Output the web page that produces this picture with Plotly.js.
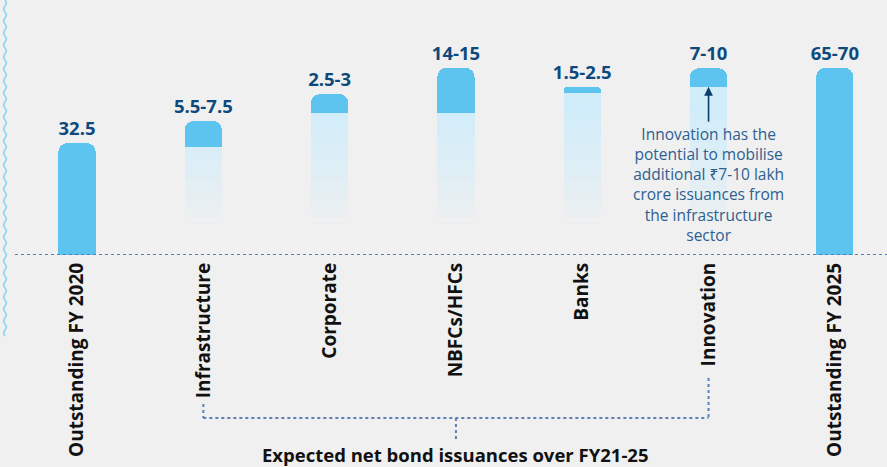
<!DOCTYPE html>
<html>
<head>
<meta charset="utf-8">
<script src="https://cdn.plot.ly/plotly-3.0.1.min.js"></script>
<style>html,body{margin:0;padding:0;background:#f0f0f0;}#chart{width:887px;height:467px;}</style>
</head>
<body>
<div id="chart"></div>
<script>
// ---- data (chart is an infographic, drawn heights are not to scale) ----
const categories = ['Outstanding FY 2020','Infrastructure','Corporate','NBFCs/HFCs','Banks','Innovation','Outstanding FY 2025'];
const valueLabels = ['32.5','5.5-7.5','2.5-3','14-15','1.5-2.5','7-10','65-70'];
// drawn heights, in units where the FY2020 bar = 32.5
const barTop  = [32.5, 38.9, 46.7, 54.3, 48.7, 54.2, 54.3];
const barBase = [0,    31.3, 41.2, 41.2, 46.9, 48.8, 0];
const hasFadeBody = [false, true, true, true, true, true, false];
const noteText = 'Innovation has the<br>potential to mobilise<br>additional ₹7-10 lakh<br>crore issuances from<br>the infrastructure<br>sector';
const groupTitle = 'Expected net bond issuances over FY21-25';

// ---- styling ----
const FONT = '"Open Sans", "Noto Sans", sans-serif';
const CAP = '#5cc4ee';
const BW = 0.295;
const fadeLo = 9, fadeHi = 44, bands = 40;

const traces = [];
// faded bodies below the caps: a vertical fade built from thin bands
for (let k = 0; k < bands; k++) {
  const lo = fadeLo + (fadeHi - fadeLo) * k / bands;
  const hi = fadeLo + (fadeHi - fadeLo) * (k + 1) / bands;
  const t = (k + 0.5) / bands;
  const a = 0.9 * Math.pow(t, 0.8);
  const base = [], h = [];
  categories.forEach((c, i) => {
    if (!hasFadeBody[i]) { base.push(0); h.push(0); return; }
    const top = (k === bands - 1) ? barBase[i] : Math.min(hi, barBase[i]);
    base.push(lo); h.push(Math.max(0, top - lo));
  });
  traces.push({type:'bar', x: categories, y: h, base: base, width: BW,
    marker:{color:`rgba(204,236,251,${a.toFixed(3)})`, line:{width:0}},
    hoverinfo:'skip', showlegend:false});
}
const capHeight = barTop.map((t, i) => t - barBase[i]);
// solid caps / full bars (rounded)
traces.push({type:'bar', x: categories, base: barBase, y: capHeight, width: BW,
  marker:{color: CAP, cornerradius: 9, line:{width:0}},
  text: valueLabels, textposition:'outside', constraintext:'none', cliponaxis:false,
  outsidetextfont:{family: FONT, size: 18.5, color:'#0c4a7d', weight: 700},
  hoverinfo:'skip', showlegend:false});
// square off the lower ends of the caps
traces.push({type:'bar', x: categories, base: barBase, y: capHeight.map(h => h / 2), width: BW,
  marker:{color: CAP, line:{width:0}}, hoverinfo:'skip', showlegend:false});

// ---- decorations ----
const W = 887, H = 255;
function py(px){ return (H - px) / H; }  // pixel y -> paper y
// wavy border line on the left
let wave = `M ${5/W} ${py(0)}`;
for (let y = 0; y < 335; y += 12) {
  wave += ` Q ${7.5/W} ${py(y+3)} ${5/W} ${py(y+6)} Q ${2.5/W} ${py(y+9)} ${5/W} ${py(y+12)}`;
}
const dotLine = {color:'#5b80b8', width:2, dash:'dot'};
const shapes = [
  {type:'path', xref:'paper', yref:'paper', path: wave, line:{color:'#84d3f6', width:1.5}},
  {type:'line', xref:'paper', yref:'y', x0: 15/W, x1: 1, y0: 0, y1: 0, line: dotLine},
  {type:'line', xref:'x', yref:'paper', x0: 1, x1: 1, y0: py(404), y1: py(418), line: dotLine},
  {type:'line', xref:'x', yref:'paper', x0: 5, x1: 5, y0: py(378), y1: py(418), line: dotLine},
  {type:'line', xref:'x', yref:'paper', x0: 1, x1: 5, y0: py(418), y1: py(418), line: dotLine},
  {type:'line', xref:'x', yref:'paper', x0: 3, x1: 3, y0: py(418), y1: py(442), line: dotLine}
];

const annotations = [
  {xref:'x', yref:'y', x: 5, y: barBase[5], text: noteText, showarrow: true,
   axref:'pixel', ayref:'pixel', ax: 0, ay: 98, arrowhead: 2, arrowsize: 1.1,
   arrowwidth: 1.6, arrowcolor:'#0d3d6b', standoff: 0, align:'center',
   font:{family: FONT, size: 15.5, color:'#2c6090'}},
  {xref:'x', yref:'paper', x: 3, y: py(454), text: groupTitle, showarrow:false,
   xanchor:'center', yanchor:'middle',
   font:{family: FONT, size: 18.5, color:'#111111', weight: 700}}
];

const layout = {
  width: 887, height: 467,
  margin:{l:0, r:0, t:0, b:212, autoexpand:false},
  paper_bgcolor:'#f0f0f0', plot_bgcolor:'rgba(0,0,0,0)',
  barmode:'overlay', bargap: 0,
  showlegend:false,
  xaxis:{type:'category', range:[-0.61, 6.413], showgrid:false, zeroline:false,
    showline:false, ticks:'', tickangle:-90, automargin:false, ticklabelstandoff: 3,
    tickfont:{family: FONT, size: 19, color:'#111111', weight: 700}},
  yaxis:{range:[0, 74.0], visible:false, fixedrange:true},
  shapes: shapes, annotations: annotations
};
Plotly.newPlot('chart', traces, layout, {staticPlot:true, displayModeBar:false});
</script>
</body>
</html>
